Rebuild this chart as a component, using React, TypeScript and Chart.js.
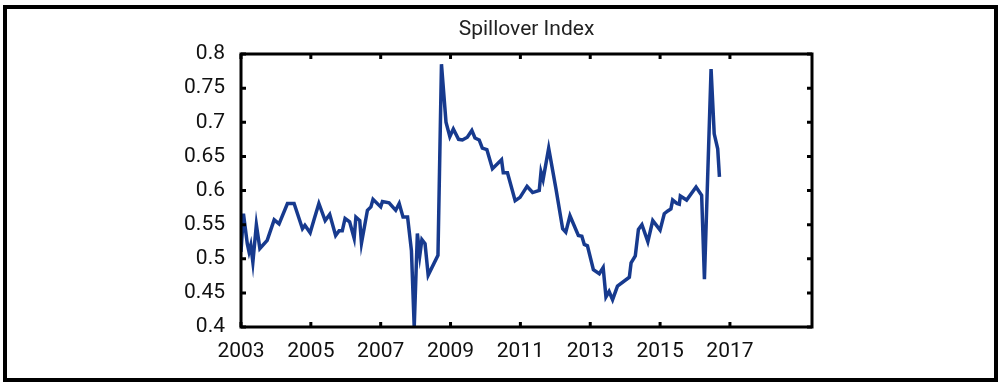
import React, { useEffect, useRef } from "react";
import { Chart, registerables } from "chart.js";

Chart.register(...registerables);

const TITLE = "Spillover Index";

const YEARS = [
  2003.0, 2003.07, 2003.18, 2003.23, 2003.28, 2003.34, 2003.44, 2003.54, 2003.75, 2003.95,
  2004.09, 2004.33, 2004.52, 2004.76, 2004.83, 2004.98, 2005.09, 2005.23, 2005.41, 2005.54,
  2005.71, 2005.81, 2005.9, 2005.98, 2006.11, 2006.24, 2006.29, 2006.4, 2006.45, 2006.62,
  2006.72, 2006.78, 2007.0, 2007.05, 2007.24, 2007.43, 2007.53, 2007.64, 2007.77, 2007.88,
  2007.96, 2008.05, 2008.12, 2008.18, 2008.27, 2008.36, 2008.64, 2008.74, 2008.87, 2008.98,
  2009.08, 2009.23, 2009.34, 2009.48, 2009.61, 2009.7, 2009.82, 2009.91, 2010.04, 2010.2,
  2010.46, 2010.51, 2010.63, 2010.85, 2010.99, 2011.19, 2011.35, 2011.54, 2011.59, 2011.65,
  2011.81, 2012.02, 2012.21, 2012.3, 2012.42, 2012.66, 2012.76, 2012.83, 2012.92, 2013.09,
  2013.26, 2013.37, 2013.45, 2013.54, 2013.64, 2013.78, 2014.12, 2014.17, 2014.29, 2014.38,
  2014.48, 2014.65, 2014.79, 2014.88, 2015.0, 2015.12, 2015.22, 2015.31, 2015.36, 2015.48,
  2015.55, 2015.58, 2015.76, 2016.03, 2016.19, 2016.27, 2016.46, 2016.55, 2016.65, 2016.7,
];

const SPILLOVER = [
  0.51, 0.566, 0.522, 0.51, 0.52, 0.495, 0.55, 0.515, 0.527, 0.557,
  0.551, 0.581, 0.581, 0.544, 0.549, 0.538, 0.557, 0.581, 0.556, 0.565,
  0.534, 0.541, 0.541, 0.559, 0.554, 0.53, 0.561, 0.556, 0.523, 0.571,
  0.576, 0.587, 0.576, 0.584, 0.582, 0.571, 0.581, 0.561, 0.561, 0.512,
  0.4, 0.537, 0.505, 0.528, 0.522, 0.476, 0.505, 0.785, 0.7, 0.679,
  0.69, 0.675, 0.674, 0.678, 0.688, 0.677, 0.674, 0.662, 0.66, 0.632,
  0.645, 0.626, 0.626, 0.585, 0.59, 0.606, 0.597, 0.6, 0.627, 0.616,
  0.662, 0.602, 0.544, 0.539, 0.563, 0.534, 0.533, 0.521, 0.519, 0.484,
  0.478, 0.487, 0.444, 0.452, 0.44, 0.46, 0.473, 0.494, 0.504, 0.543,
  0.55, 0.525, 0.556, 0.55, 0.542, 0.566, 0.57, 0.573, 0.586, 0.581,
  0.58, 0.592, 0.586, 0.605, 0.593, 0.47, 0.778, 0.683, 0.661, 0.62,
];

const X_TICKS = [2003, 2005, 2007, 2009, 2011, 2013, 2015, 2017];
const Y_TICKS = [0.4, 0.45, 0.5, 0.55, 0.6, 0.65, 0.7, 0.75, 0.8];
const X_MIN = 2003;
const X_MAX = 2019.35;
const Y_MIN = 0.4;
const Y_MAX = 0.8;

const framePlugin = {
  id: "frame",
  afterDatasetsDraw(chart: any) {
    const { ctx, chartArea } = chart;
    const { left, right, top, bottom } = chartArea;
    const xs = chart.scales.x;
    const ys = chart.scales.y;
    ctx.save();
    ctx.strokeStyle = "#000";
    ctx.lineWidth = 3;
    ctx.strokeRect(left, top, right - left, bottom - top);
    ctx.lineWidth = 3;
    const tl = 5;
    ctx.beginPath();
    X_TICKS.forEach((t) => {
      const px = xs.getPixelForValue(t);
      ctx.moveTo(px, bottom);
      ctx.lineTo(px, bottom - tl);
      ctx.moveTo(px, top);
      ctx.lineTo(px, top + tl);
    });
    Y_TICKS.forEach((t) => {
      const py = ys.getPixelForValue(t);
      ctx.moveTo(left, py);
      ctx.lineTo(left + tl, py);
      ctx.moveTo(right, py);
      ctx.lineTo(right - tl, py);
    });
    ctx.stroke();
    ctx.lineWidth = 4;
    ctx.strokeRect(5, 7, 991, 373);
    ctx.restore();
  },
};

export default function App() {
  const ref = useRef<HTMLCanvasElement | null>(null);
  useEffect(() => {
    if (!ref.current) return;
    const font = { family: "Roboto, 'DejaVu Sans', sans-serif", size: 21 };
    const chart = new Chart(ref.current, {
      type: "line",
      data: {
        datasets: [
          {
            label: TITLE,
            data: YEARS.map((x, i) => ({ x, y: SPILLOVER[i] })),
            borderColor: "#173a8e",
            borderWidth: 3.5,
            pointRadius: 0,
            tension: 0,
            fill: false,
          },
        ],
      },
      options: {
        responsive: false,
        animation: false,
        devicePixelRatio: 1,
        layout: { padding: { left: 0, right: 193, top: 0, bottom: 0 } },
        plugins: {
          legend: { display: false },
          tooltip: { enabled: false },
          title: {
            display: true,
            text: TITLE,
            fullSize: false,
            color: "#222",
            font: { family: "Roboto, 'DejaVu Sans', sans-serif", size: 21, weight: "normal" },
            padding: { top: 17.4, bottom: 11.4 },
          },
        },
        scales: {
          x: {
            type: "linear",
            min: X_MIN,
            max: X_MAX,
            grid: { display: false, drawTicks: false },
            border: { display: false },
            afterBuildTicks: (s: any) => {
              s.ticks = X_TICKS.map((v) => ({ value: v }));
            },
            afterFit: (s: any) => {
              s.height = 61;
            },
            ticks: {
              color: "#111",
              font,
              padding: 12,
              maxRotation: 0,
              autoSkip: false,
              callback: (v: any) => String(v),
            },
          },
          y: {
            type: "linear",
            min: Y_MIN,
            max: Y_MAX,
            grid: { display: false, drawTicks: false },
            border: { display: false },
            afterBuildTicks: (s: any) => {
              s.ticks = Y_TICKS.map((v) => ({ value: v }));
            },
            afterFit: (s: any) => {
              s.width = 241;
            },
            ticks: {
              color: "#111",
              font,
              padding: 16,
              autoSkip: false,
              callback: (v: any) => String(+Number(v).toFixed(2)),
            },
          },
        },
      },
      plugins: [framePlugin],
    });
    return () => chart.destroy();
  }, []);
  return (
    <div style={{ position: "absolute", left: 0, top: 0, width: 1005, height: 388 }}>
      <canvas ref={ref} width={1005} height={388} style={{ display: "block" }} />
    </div>
  );
}
